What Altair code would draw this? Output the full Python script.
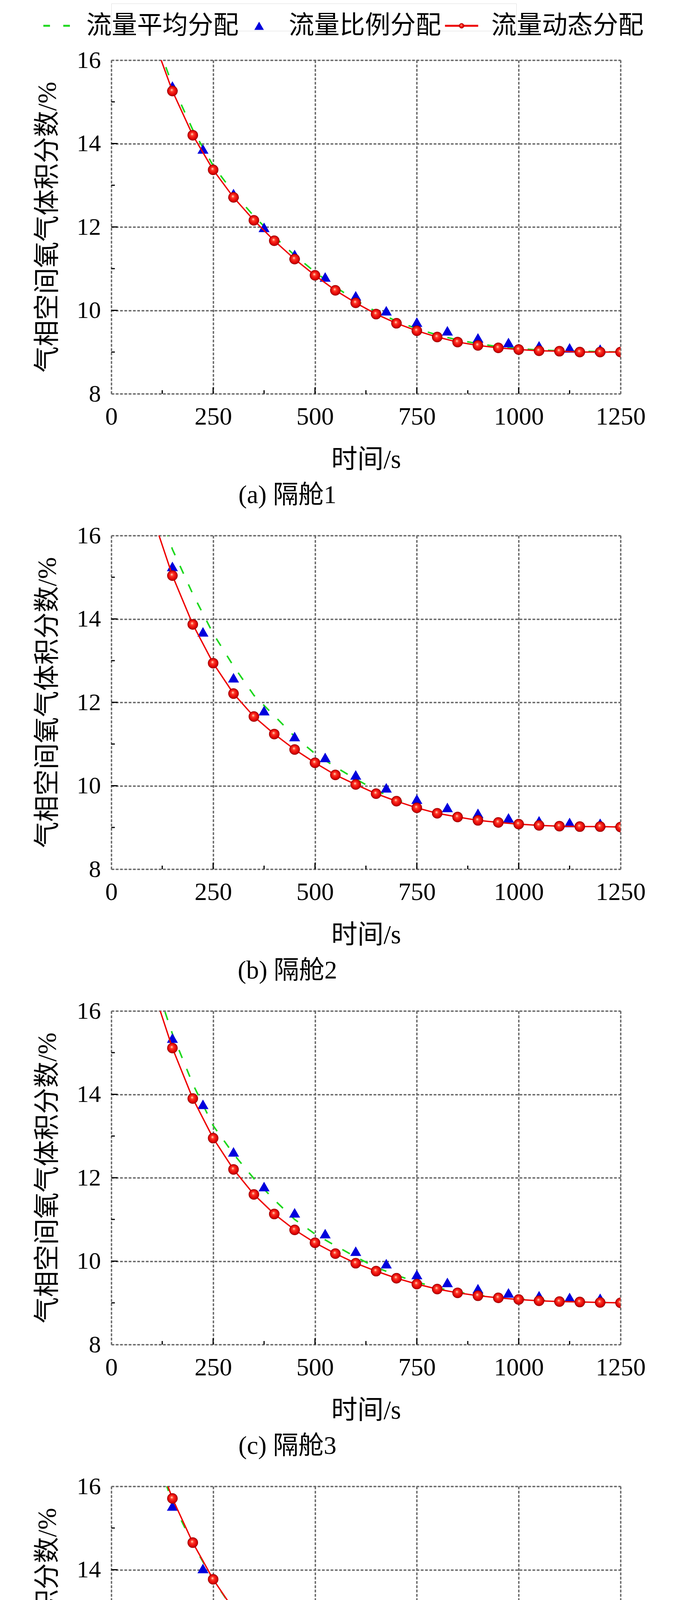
import altair as alt
import pandas as pd

# ---------------- data ----------------
SERIES = ["流量平均分配", "流量比例分配", "流量动态分配"]
PANELS = ["(a) 隔舱1", "(b) 隔舱2", "(c) 隔舱3", "(d) 隔舱4"]

T_LINE = [100, 150, 200, 250, 300, 350, 400, 450, 500, 550, 600, 650,
          700, 750, 800, 850, 900, 950, 1000, 1050, 1100, 1150, 1200, 1250]
T_TRI = [150, 225, 300, 375, 450, 525, 600, 675, 750, 825, 900, 975, 1050, 1125, 1200]

GREEN = [
    [16.75, 15.40, 14.33, 13.47, 12.82, 12.26, 11.77, 11.32, 10.92, 10.56, 10.24, 9.97,
     9.74, 9.56, 9.41, 9.29, 9.20, 9.13, 9.08, 9.05, 9.03, 9.02, 9.01, 9.00],
    [17.10, 15.67, 14.60, 13.65, 12.87, 12.17, 11.68, 11.18, 10.77, 10.45, 10.16, 9.89,
     9.67, 9.49, 9.36, 9.26, 9.18, 9.12, 9.08, 9.05, 9.03, 9.02, 9.02, 9.01],
    [16.90, 15.45, 14.25, 13.25, 12.57, 11.98, 11.47, 11.00, 10.65, 10.37, 10.10, 9.85,
     9.66, 9.50, 9.36, 9.26, 9.18, 9.13, 9.09, 9.06, 9.04, 9.02, 9.01, 9.00],
    [17.00, 15.62, 14.62, 13.76, 13.04, 12.40, 11.84, 11.38, 10.99, 10.66, 10.37, 10.14,
     9.94, 9.77, 9.62, 9.49, 9.38, 9.29, 9.22, 9.16, 9.12, 9.09, 9.07, 9.05],
]
BLUE = [
    [15.38, 13.87, 12.80, 11.99, 11.34, 10.80, 10.35, 9.99, 9.72, 9.51, 9.34, 9.23, 9.15, 9.10, 9.07],
    [15.26, 13.69, 12.59, 11.80, 11.18, 10.68, 10.26, 9.95, 9.68, 9.48, 9.34, 9.23, 9.16, 9.12, 9.10],
    [15.35, 13.76, 12.62, 11.79, 11.16, 10.66, 10.24, 9.94, 9.68, 9.49, 9.34, 9.24, 9.17, 9.13, 9.11],
    [15.53, 14.03, 12.91, 12.05, 11.36, 10.82, 10.40, 10.07, 9.81, 9.58, 9.41, 9.31, 9.22, 9.17, 9.13],
]
RED = [
    [16.60, 15.26, 14.20, 13.37, 12.71, 12.16, 11.67, 11.23, 10.84, 10.48, 10.18, 9.91,
     9.69, 9.51, 9.36, 9.24, 9.16, 9.10, 9.06, 9.03, 9.02, 9.00, 9.00, 9.00],
    [16.50, 15.04, 13.87, 12.94, 12.21, 11.66, 11.24, 10.87, 10.55, 10.26, 10.03, 9.81,
     9.63, 9.47, 9.34, 9.25, 9.17, 9.12, 9.08, 9.05, 9.03, 9.02, 9.02, 9.01],
    [16.60, 15.11, 13.90, 12.95, 12.20, 11.60, 11.13, 10.75, 10.44, 10.18, 9.95, 9.76,
     9.59, 9.45, 9.33, 9.24, 9.17, 9.12, 9.08, 9.05, 9.03, 9.02, 9.01, 9.00],
    [17.03, 15.71, 14.65, 13.77, 13.05, 12.40, 11.81, 11.34, 10.94, 10.61, 10.32, 10.11,
     9.90, 9.72, 9.57, 9.45, 9.36, 9.26, 9.20, 9.15, 9.11, 9.08, 9.06, 9.04],
]

X_TICKS = [0, 250, 500, 750, 1000, 1250]
X_MINOR = [125, 375, 625, 875, 1125]
Y_TICKS = [8, 10, 12, 14, 16]
Y_MINOR = [9, 11, 13, 15]

# ---------------- styles ----------------
FONT = "Liberation Serif, Noto Sans CJK SC"
CJK = "Noto Sans CJK SC"
COLORS = ["#1fd81f", "#0000dd", "#ee0000"]
W, H = 1304, 854
GRAD = {
    "gradient": "radial",
    "x1": 0.42, "y1": 0.38, "r1": 0.0,
    "x2": 0.5, "y2": 0.5, "r2": 0.55,
    "stops": [
        {"offset": 0.0, "color": "#fff2cc"},
        {"offset": 0.28, "color": "#ff3a2a"},
        {"offset": 0.75, "color": "#e00000"},
        {"offset": 1.0, "color": "#a00000"},
    ],
}

xs = alt.Scale(domain=[0, 1250], nice=False, zero=False)
ys = alt.Scale(domain=[8, 16], nice=False, zero=False)

GRID = dict(grid=True, gridColor="#666666", gridDash=[7, 4], gridWidth=3.5)
xaxis = alt.Axis(values=X_TICKS, format="d", title="时间/s",
                 labelFont=FONT, labelFontSize=64, labelColor="black",
                 titleFont=FONT, titleFontSize=67, titleFontWeight="normal", titleColor="black",
                 ticks=False, tickSize=0, domain=False, labelPadding=27, titlePadding=45,
                 labelFlush=False, labelOverlap=False, **GRID)
yaxis = alt.Axis(values=Y_TICKS, format="d", title="气相空间氧气体积分数/%",
                 labelFont=FONT, labelFontSize=62, labelColor="black",
                 titleFont=FONT, titleFontSize=67, titleFontWeight="normal", titleColor="black",
                 ticks=False, tickSize=0, domain=False, labelPadding=27, titlePadding=40,
                 labelFlush=False, labelOverlap=False, **GRID)


def panel(i):
    green_df = pd.DataFrame({"t": T_LINE, "v": GREEN[i]})
    blue_df = pd.DataFrame({"t": T_TRI, "v": BLUE[i]})
    red_df = pd.DataFrame({"t": T_LINE, "v": RED[i]})

    green = alt.Chart(green_df).mark_line(
        clip=True, color=COLORS[0], strokeWidth=4, strokeDash=[22, 30]
    ).encode(x=alt.X("t:Q", scale=xs, axis=xaxis), y=alt.Y("v:Q", scale=ys, axis=yaxis))

    tri = alt.Chart(blue_df).mark_point(
        clip=True, shape="triangle-up", filled=True, size=800, color=COLORS[1], opacity=1
    ).encode(x=alt.X("t:Q", scale=xs), y=alt.Y("v:Q", scale=ys))

    redline = alt.Chart(red_df).mark_line(
        clip=True, color=COLORS[2], strokeWidth=3.5
    ).encode(x=alt.X("t:Q", scale=xs), y=alt.Y("v:Q", scale=ys))

    circles = alt.Chart(red_df).transform_filter("datum.t >= 150").mark_point(
        clip=True, shape="circle", filled=True, size=650, fill=GRAD,
        stroke="#990000", strokeWidth=1.5, opacity=1
    ).encode(x=alt.X("t:Q", scale=xs), y=alt.Y("v:Q", scale=ys))

    xmaj = alt.Chart(pd.DataFrame({"t": X_TICKS[1:-1]})).mark_rule(
        color="black", strokeWidth=3
    ).encode(x=alt.X("t:Q", scale=xs), y=alt.value(H), y2=alt.value(H - 16))
    xmin = alt.Chart(pd.DataFrame({"t": X_MINOR})).mark_rule(
        color="black", strokeWidth=3
    ).encode(x=alt.X("t:Q", scale=xs), y=alt.value(H), y2=alt.value(H - 9))
    ymaj = alt.Chart(pd.DataFrame({"v": Y_TICKS[1:-1]})).mark_rule(
        color="black", strokeWidth=3
    ).encode(y=alt.Y("v:Q", scale=ys), x=alt.value(0), x2=alt.value(16))
    ymin = alt.Chart(pd.DataFrame({"v": Y_MINOR})).mark_rule(
        color="black", strokeWidth=3
    ).encode(y=alt.Y("v:Q", scale=ys), x=alt.value(0), x2=alt.value(9))

    return alt.layer(green, tri, redline, circles, xmaj, xmin, ymaj, ymin).properties(
        width=W, height=H,
        title=alt.TitleParams(PANELS[i], orient="bottom", anchor="middle", dx=-201,
                              font=FONT, fontSize=65, fontWeight="normal", color="black",
                              offset=27),
    )


# ---------------- legend row ----------------
leg_df = pd.DataFrame({"s": SERIES})
LX = alt.X("s:N", sort=SERIES,
           scale=alt.Scale(type="point", domain=SERIES, padding=0), axis=None)
LY = alt.value(57)
SYM_DX = -140
TXT_DX = -64

leg_green = alt.Chart(leg_df).transform_filter(alt.datum.s == SERIES[0]).mark_point(
    shape="M-1,0H1", size=68 * 68, filled=False, stroke=COLORS[0], strokeWidth=5,
    strokeDash=[17, 34], opacity=1, xOffset=SYM_DX
).encode(x=LX, y=LY)
leg_blue = alt.Chart(leg_df).transform_filter(alt.datum.s == SERIES[1]).mark_point(
    shape="triangle-up", size=600, filled=True, color=COLORS[1], opacity=1, xOffset=SYM_DX
).encode(x=LX, y=LY)
leg_redl = alt.Chart(leg_df).transform_filter(alt.datum.s == SERIES[2]).mark_point(
    shape="M-1,0H1", size=85 * 85, filled=False, stroke=COLORS[2], strokeWidth=5,
    opacity=1, xOffset=SYM_DX
).encode(x=LX, y=LY)
leg_redc = alt.Chart(leg_df).transform_filter(alt.datum.s == SERIES[2]).mark_point(
    shape="circle", size=160, filled=True, fill=GRAD, stroke="#990000", strokeWidth=1,
    opacity=1, xOffset=SYM_DX
).encode(x=LX, y=LY)
leg_text = alt.Chart(leg_df).mark_text(
    align="left", baseline="middle", dx=TXT_DX, font=CJK, fontSize=65, color="black"
).encode(x=LX, y=LY, text="s:N")

legend = alt.layer(leg_green, leg_blue, leg_redl, leg_redc, leg_text).properties(
    width=1037, height=70
)

panels = alt.vconcat(panel(0), panel(1), panel(2), panel(3), spacing=37)

chart = alt.vconcat(legend, panels, spacing=22).properties(
    padding={"left": 79, "top": 0, "right": 10, "bottom": 0}
).configure_view(stroke="black", strokeWidth=4).configure(background="white")

chart.save("out.html", embed_options={"renderer": "svg", "actions": False})
